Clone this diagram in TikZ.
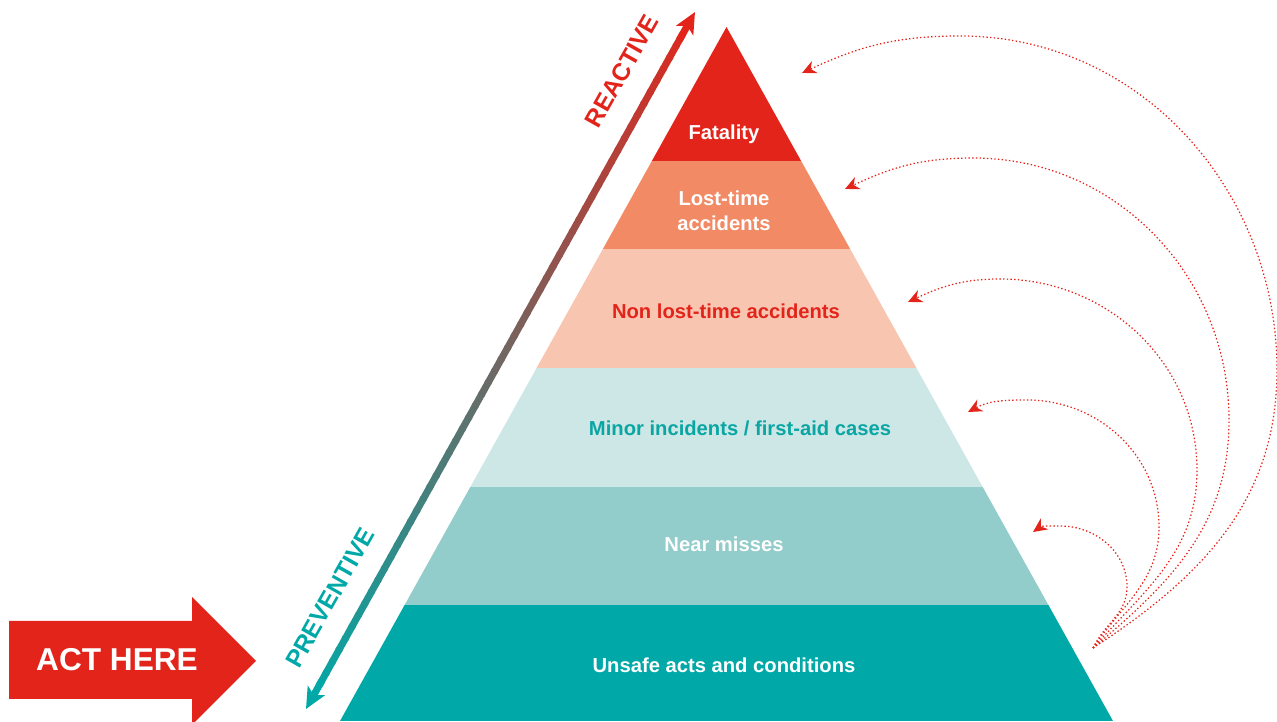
\documentclass[tikz,border=0pt]{standalone}
\usepackage{fontspec}
\setmainfont{Liberation Sans}
\usetikzlibrary{arrows.meta,calc}
\definecolor{cRed}{HTML}{E3241B}
\definecolor{cLost}{HTML}{F28A65}
\definecolor{cNon}{HTML}{F8C5B0}
\definecolor{cMinor}{HTML}{CDE6E6}
\definecolor{cNear}{HTML}{92CDCB}
\definecolor{cUnsafe}{HTML}{00A9A8}
\definecolor{cTealTxt}{HTML}{0AA6A3}
\begin{document}
\begin{tikzpicture}[x=0.02cm,y=0.02cm,
  lbl/.style={font=\fontsize{11.5}{14}\selectfont\bfseries, align=center, inner sep=0pt},
  side/.style={font=\fontsize{14}{16}\selectfont\bfseries, rotate=60.5, inner sep=0pt},
  arc/.style={cRed, line width=0.7pt, dash pattern=on 0.8pt off 1.3pt, -{Stealth[length=8pt,width=7.5pt]}},
  grad/.style={line width=4pt},
  gtip/.style={-{Stealth[length=12pt,width=11pt,inset=3pt]}}]
\useasboundingbox (0,0) rectangle (1277,722);
\begin{scope}
\clip (0,0) rectangle (1277,722);
% pyramid
\begin{scope}
  \clip (340,1) -- (726.5,695) -- (1113,1) -- cycle;
  \fill[cUnsafe] (300,-5) rectangle (1150,117);
  \fill[cNear]   (300,117) rectangle (1150,235);
  \fill[cMinor]  (300,235) rectangle (1150,354);
  \fill[cNon]    (300,354) rectangle (1150,473);
  \fill[cLost]   (300,473) rectangle (1150,561);
  \fill[cRed]    (300,561) rectangle (1150,700);
\end{scope}
\node[lbl, white]    (fat)   at (724,588) {Fatality};
\node[lbl, white]    (lost)  at (724,511) {Lost-time\\accidents};
\node[lbl, cRed]     (non)   at (726,411) {Non lost-time accidents};
\node[lbl, cTealTxt] (minor) at (740,294) {Minor incidents / first-aid cases};
\node[lbl, white]    (near)  at (724,178) {Near misses};
\node[lbl, white]    (unsafe) at (724,57) {Unsafe acts and conditions};
% gradient arrow
\coordinate (gb) at (306,13);
\coordinate (gt) at (695,710);
\foreach \i in {2,...,57} {
  \pgfmathsetmacro\pa{\i/60}
  \pgfmathsetmacro\pb{(\i+1.2)/60}
  \pgfmathtruncatemacro\pc{100*(\i+0.5)/60}
  \draw[grad, draw=cRed!\pc!cUnsafe] ($(gb)!\pa!(gt)$) -- ($(gb)!\pb!(gt)$);
}
\draw[grad, gtip, cRed] ($(gb)!0.96!(gt)$) -- (gt);
\draw[grad, gtip, cUnsafe] ($(gb)!0.04!(gt)$) -- (gb);
\node[side, cRed] (reactive) at (622,651) {REACTIVE};
\node[side, cUnsafe] (preventive) at (330,124) {PREVENTIVE};
% act here arrow
\fill[cRed] (9,101) -- (192,101) -- (192,125) -- (256,61) -- (192,-3) -- (192,23) -- (9,23) -- cycle;
\node[font=\fontsize{18}{20}\selectfont\bfseries, white, inner sep=0pt] (act) at (117,62) {ACT HERE};
% dotted arcs
\coordinate (src) at (1093,74);
\coordinate (e1) at (802,649);
\coordinate (e2) at (845,533);
\coordinate (e3) at (908,420);
\coordinate (e4) at (968,310);
\coordinate (e5) at (1033,190);
\draw[arc] (src) to[out=33,in=-90] (1277,352) to[out=90,in=0] (960,686) to[out=180,in=25] (e1);
\draw[arc] (src) to[out=40,in=-90] (1229,302) to[out=90,in=0] (973,564) to[out=180,in=25] (e2);
\draw[arc] (src) to[out=48,in=-90] (1197,252) to[out=90,in=0] (1000,443) to[out=180,in=25] (e3);
\draw[arc] (src) to[out=56,in=-90] (1159,195) to[out=90,in=0] (1027,322) to[out=180,in=28] (e4);
\draw[arc] (src) to[out=65,in=-90] (1127,135) to[out=90,in=0] (1060,196) to[out=180,in=35] (e5);
\end{scope}
\end{tikzpicture}
\end{document}
